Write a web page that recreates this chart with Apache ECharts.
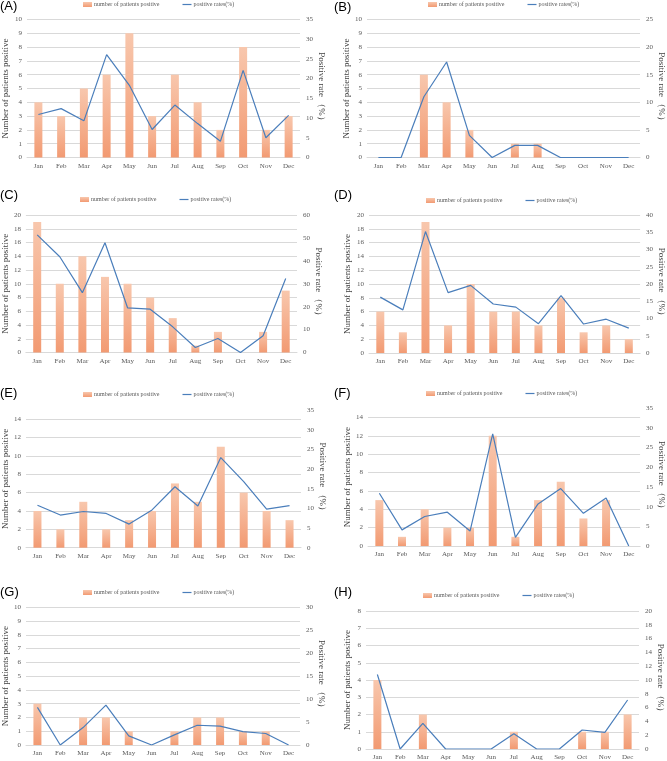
<!DOCTYPE html>
<html>
<head>
<meta charset="utf-8">
<script src="https://cdn.jsdelivr.net/npm/echarts@6/dist/echarts.min.js"></script>
<style>html,body{margin:0;padding:0;background:#fff}#c{width:667px;height:761px}</style>
</head>
<body>
<div id="c"></div>
<script>
const months = ['Jan','Feb','Mar','Apr','May','Jun','Jul','Aug','Sep','Oct','Nov','Dec'];
const panelLabels = ['(A)','(B)','(C)','(D)','(E)','(F)','(G)','(H)'];
const barName = 'number of patients positive';
const lineName = 'positive rates(%)';
const leftAxisName = 'Number of patients positive';
const rightAxisName = 'Positive rate （%）';

const countsA = [4,3,5,6,9,3,6,4,2,8,2,3];
const ratesA  = [10.9,12.4,9.3,26.1,18.3,7.1,13.3,8.6,4.1,22.1,5.0,10.7];
const countsB = [0,0,6,4,2,0,1,1,0,0,0,0];
const ratesB  = [0,0,11.0,17.3,4.0,0,2.2,2.2,0,0,0,0];
const countsC = [19,10,14,11,10,8,5,1,3,0,3,9];
const ratesC  = [51.3,41.8,26.1,47.9,19.5,18.9,11.2,2.2,6.1,0,7.3,32.3];
const countsD = [6,3,19,4,10,6,6,4,8,3,4,2];
const ratesD  = [16.2,12.5,35.2,17.5,19.6,14.2,13.3,8.5,16.6,8.4,9.8,7.2];
const countsE = [4,2,5,2,3,4,7,5,11,6,4,3];
const ratesE  = [10.8,8.3,9.2,8.7,6.0,9.6,15.5,10.6,22.9,16.8,9.8,10.7];
const countsF = [5,1,4,2,2,12,1,5,7,3,5,0];
const ratesF  = [13.4,4.1,7.5,8.6,3.8,28.5,2.2,10.7,14.6,8.3,12.2,0];
const countsG = [3,0,2,2,1,0,1,2,2,1,1,0];
const ratesG  = [8.2,0,3.8,8.7,2.0,0,2.2,4.3,4.1,2.9,2.5,0];
const countsH = [4,0,2,0,0,0,1,0,0,1,1,2];
const ratesH  = [10.8,0,3.7,0,0,0,2.2,0,0,2.75,2.4,7.1];

// axis scales
const leftMax  = [10,10,20,20,15,15,10,8];
const leftStep = [1,1,2,2,2,2,1,1];
const rightMax = [35,25,60,40,35,35,30,20];
const rightStep= [5,5,10,5,5,5,5,2];

const counts = [countsA,countsB,countsC,countsD,countsE,countsF,countsG,countsH];
const rates  = [ratesA,ratesB,ratesC,ratesD,ratesE,ratesF,ratesG,ratesH];

// layout (pixels)
const grids = [
  {left:27, top:19.5, width:273, height:138},
  {left:367, top:19.5, width:273, height:138},
  {left:22, top:215, width:275, height:137.5},
  {left:369, top:215, width:273, height:138},
  {left:26, top:410, width:275, height:137.7},
  {left:368, top:408.3, width:274, height:137.7},
  {left:26, top:607.3, width:274, height:137.7},
  {left:366, top:611, width:273, height:138}
];
const leftNameGap = [17,16,13,17,16,16,16,14];
const legendPos = [[83,1.5],[428,1.5],[80,196.5],[426,197.5],[83,391.5],[426,390.5],[83,589.5],[423,592.5]];
const labelPos = [[0,0],[334,1],[0,189],[334,189],[0,387],[334,387],[0,586],[334,586]];

const serif = '"Liberation Serif", "DejaVu Serif", serif';
const labelColor = '#595959';
const gridColor = '#d9d9d9';
const lineColor = '#4a7ebb';

const barColor = new echarts.graphic.LinearGradient(0,0,0,1,[
  {offset:0,color:'#f8c7ad'},{offset:1,color:'#f29a72'}
]);

const option = {
  animation:false,
  backgroundColor:'#fff',
  grid:[], xAxis:[], yAxis:[], series:[], legend:[], graphic:[]
};

for (let i=0;i<8;i++){
  option.grid.push(Object.assign({containLabel:false}, grids[i]));
  option.xAxis.push({
    type:'category', gridIndex:i, data:months,
    axisLine:{show:true, lineStyle:{color:gridColor}},
    axisTick:{show:false},
    axisLabel:{color:labelColor, fontFamily:serif, fontSize:7, margin:5}
  });
  option.yAxis.push({
    type:'value', gridIndex:i, position:'left', min:0, max:leftMax[i], interval:leftStep[i],
    name:leftAxisName, nameLocation:'middle', nameRotate:90, nameGap:leftNameGap[i],
    nameTextStyle:{color:'#404040', fontFamily:serif, fontSize:9},
    axisLine:{show:false}, axisTick:{show:false},
    axisLabel:{color:labelColor, fontFamily:serif, fontSize:7, margin:5, showMaxLabel: leftMax[i] % leftStep[i] === 0},
    splitLine:{show:true, showMaxLine: leftMax[i] % leftStep[i] === 0, lineStyle:{color:gridColor, width:1}}
  });
  option.yAxis.push({
    type:'value', gridIndex:i, position:'right', min:0, max:rightMax[i], interval:rightStep[i],
    name:rightAxisName, nameLocation:'middle', nameRotate:-90, nameGap:16,
    nameTextStyle:{color:'#404040', fontFamily:serif, fontSize:9},
    axisLine:{show:false}, axisTick:{show:false},
    axisLabel:{color:labelColor, fontFamily:serif, fontSize:7, margin:6},
    splitLine:{show:false}
  });
  option.series.push({
    type:'bar', name:barName, xAxisIndex:i, yAxisIndex:2*i, data:counts[i],
    barWidth:8, itemStyle:{color:barColor}
  });
  option.series.push({
    type:'line', name:lineName, xAxisIndex:i, yAxisIndex:2*i+1, data:rates[i],
    symbol:'none', lineStyle:{color:lineColor, width:1.2}, itemStyle:{color:lineColor}
  });
  option.legend.push({
    left:legendPos[i][0], top:legendPos[i][1], padding:0, itemWidth:9, itemHeight:5, itemGap:23,
    textStyle:{fontFamily:serif, fontSize:6, color:labelColor, padding:[0,0,0,-3]},
    data:[
      {name:barName, icon:'rect'},
      {name:lineName, icon:'path://M0,0 L30,0 L30,4 L0,4 Z', itemStyle:{color:lineColor}}
    ]
  });
  option.graphic.push({
    type:'text', left:labelPos[i][0], top:labelPos[i][1],
    style:{text:panelLabels[i], font:'13px "Liberation Sans", Arial, sans-serif', fill:'#000'}
  });
}

const chart = echarts.init(document.getElementById('c'), null, {renderer:'canvas'});
chart.setOption(option);
</script>
</body>
</html>
